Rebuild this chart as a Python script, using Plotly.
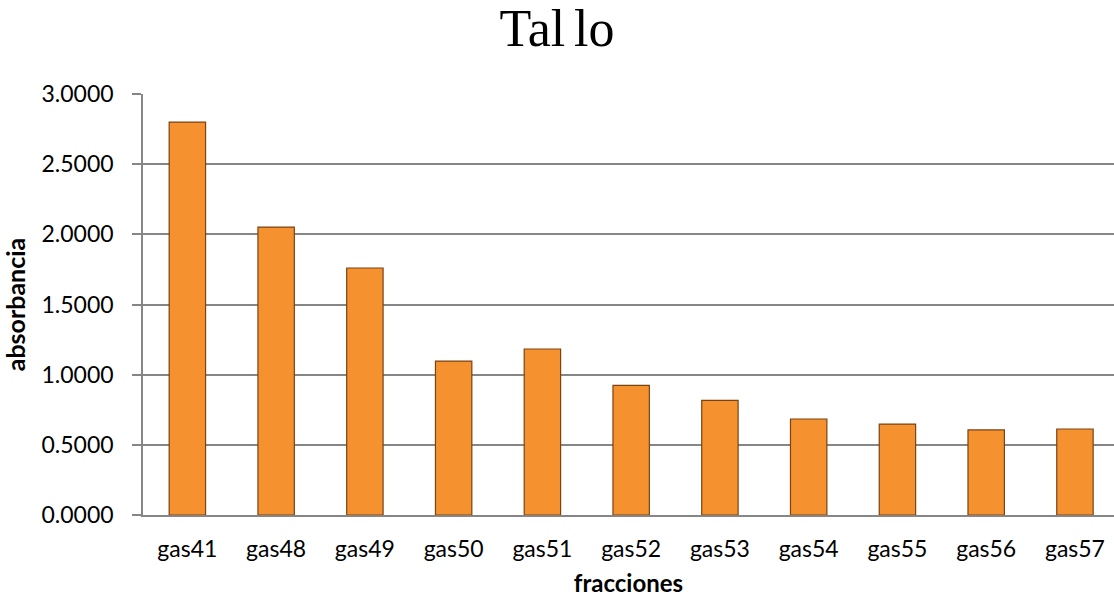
import plotly.graph_objects as go

categories = ["gas41", "gas48", "gas49", "gas50", "gas51", "gas52",
              "gas53", "gas54", "gas55", "gas56", "gas57"]
absorbancia = [2.800, 2.052, 1.760, 1.097, 1.183, 0.924,
               0.817, 0.684, 0.648, 0.606, 0.613]
y_ticks = [0.0, 0.5, 1.0, 1.5, 2.0, 2.5, 3.0]

fig = go.Figure()
fig.add_trace(go.Bar(
    x=categories, y=absorbancia, width=0.41,
    marker=dict(color="#F5922F", line=dict(color="#7A4312", width=1.2)),
))

fig.update_layout(
    width=1114, height=602,
    paper_bgcolor="white", plot_bgcolor="white",
    margin=dict(l=143, r=0, t=94, b=87, autoexpand=False),
    showlegend=False,
    title=dict(text="Tal\u2006lo", x=0.5, xanchor="center", xref="container",
               y=1.0, yanchor="top", yref="container", pad=dict(t=10),
               font=dict(family="Liberation Serif", size=52, color="black")),
    font=dict(family="Lato", color="black"),
)
fig.update_xaxes(
    range=[-0.5, 10.44], showgrid=False, automargin=False,
    showline=True, linecolor="#868686", linewidth=1.5,
    ticks="", ticklabelstandoff=13, tickfont=dict(size=23, family="Lato"),
    title=dict(text="<b>fracciones</b>", font=dict(size=24, family="Lato"), standoff=14),
)
fig.update_yaxes(
    range=[0, 3.0], tickvals=y_ticks, tickformat=".4f", automargin=False,
    showgrid=True, gridcolor="#868686", gridwidth=1.5,
    showline=True, linecolor="#868686", linewidth=1.5,
    ticks="outside", ticklen=9, tickcolor="#868686", tickwidth=1.5,
    ticklabelstandoff=14,
    tickfont=dict(size=23, family="Lato"),
    title=dict(text="<b>absorbancia</b>", font=dict(size=25, family="Lato"), standoff=10),
    zeroline=False,
)
fig.write_html("out.html", config={"displayModeBar": False},
               post_script="document.body.style.margin='0';document.body.style.overflow='hidden';")
